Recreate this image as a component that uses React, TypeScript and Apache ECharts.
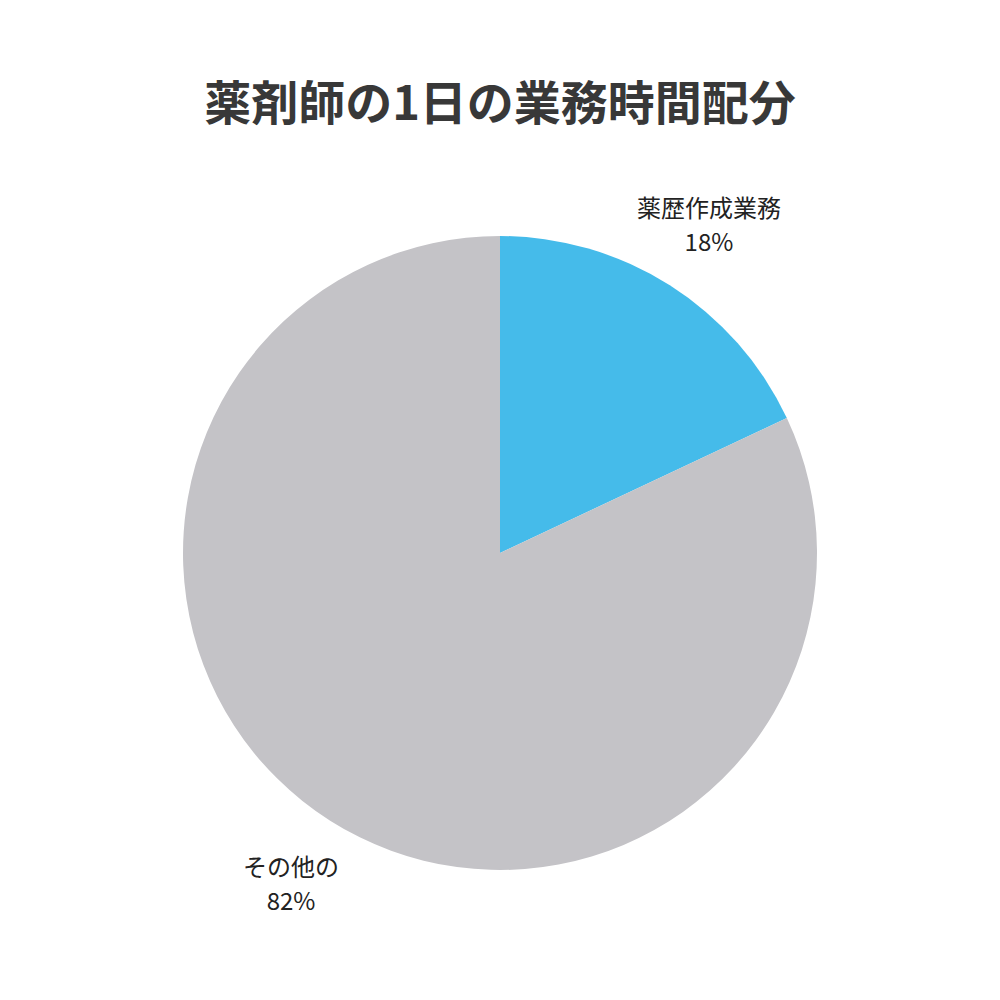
import React, { useEffect, useRef } from 'react';
import * as echarts from 'echarts';

const titleText = '薬剤師の1日の業務時間配分';
const categories = ['薬歴作成業務', 'その他の'];
const shares = [18, 82];
const colors = ['#45BBEA', '#C4C3C7'];

const CENTER = [500, 553];
const RADIUS = 317;
const LABEL_RADIUS = 390;

const total = shares.reduce((a, b) => a + b, 0);

// mid angle of each slice, clockwise from 12 o'clock
const midAngle = (i: number) => {
  let before = 0;
  for (let k = 0; k < i; k++) before += shares[k];
  return ((before + shares[i] / 2) / total) * Math.PI * 2;
};

const App: React.FC = () => {
  const chartRef = useRef<HTMLDivElement>(null);

  useEffect(() => {
    const chart = echarts.init(chartRef.current!, undefined, { renderer: 'svg' });

    const option = {
      animation: false,
      backgroundColor: '#ffffff',
      title: {
        text: titleText,
        left: 'center',
        top: 71,
        textStyle: {
          fontFamily: '"Noto Sans CJK JP", sans-serif',
          fontWeight: 'bold',
          fontSize: 47,
          color: '#383838',
        },
      },
      series: [
        {
          type: 'pie',
          center: CENTER,
          radius: RADIUS,
          startAngle: 90,
          clockwise: true,
          label: {
            show: true,
            position: 'outside',
            formatter: (p: any) => `${p.name}\n${p.value}%`,
            fontFamily: '"Noto Sans CJK JP", sans-serif',
            fontSize: 24,
            lineHeight: 34,
            color: '#222222',
          },
          labelLine: { show: false },
          labelLayout: (params: any) => {
            const a = midAngle(params.dataIndex);
            return {
              x: CENTER[0] + LABEL_RADIUS * Math.sin(a),
              y: CENTER[1] - LABEL_RADIUS * Math.cos(a),
              align: 'center',
              verticalAlign: 'middle',
            };
          },
          itemStyle: { borderWidth: 0 },
          emphasis: { disabled: true },
          data: categories.map((name, i) => ({
            name,
            value: shares[i],
            itemStyle: { color: colors[i] },
          })),
        },
      ],
    };

    chart.setOption(option);

    return () => {
      chart.dispose();
    };
  }, []);

  return (
    <div
      ref={chartRef}
      style={{ position: 'absolute', left: 0, top: 0, width: 1000, height: 1000 }}
    />
  );
};

export default App;
